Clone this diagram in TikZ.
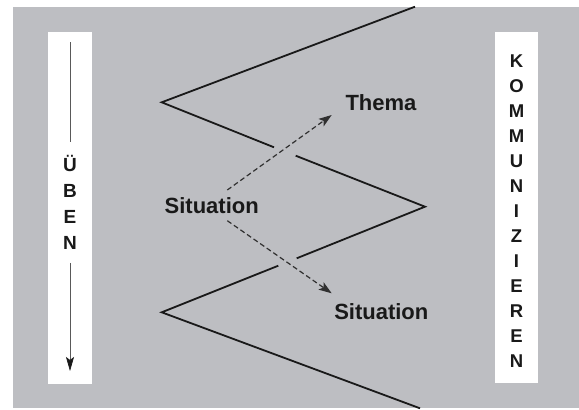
\documentclass[tikz,border=0pt]{standalone}
\usepackage{fontspec}
\setmainfont{Liberation Sans}
\usetikzlibrary{arrows.meta}

\definecolor{bggray}{RGB}{189,190,194}
\definecolor{ink}{RGB}{25,25,25}

\tikzset{
  zig/.style={draw=ink, line width=1.8pt},
  dasharrow/.style={draw=ink!90, line width=1.2pt, dash pattern=on 5pt off 3pt,
                    -{Stealth[length=13pt,width=9pt,inset=3pt]}},
  sidebar/.style={fill=white, draw=none},
  word/.style={font=\bfseries\fontsize{22}{26}\selectfont, text=ink, anchor=base, inner sep=0pt},
  vword/.style={font=\bfseries\fontsize{18.5}{25}\selectfont, text=ink, align=center, inner sep=0pt},
}

\def\xL{70}
\def\xR{516.5}

\begin{document}
\begin{tikzpicture}[x=1pt, y=-1pt]
    \useasboundingbox (0,0) rectangle (579,410);
    \fill[bggray] (13.3,6.7) rectangle (579,408);

    %% side bars
    \fill[sidebar] (48.3,31.7) rectangle (91.7,384);
    \fill[sidebar] (495,31.7)  rectangle (538,383);

    %%   (name)   (x, y)          {\text}
    \node[vword, font=\bfseries\fontsize{19}{26}\selectfont, inner ysep=13pt] (uben) at (\xL, 202.5) {Ü\\B\\E\\N};
    \node[vword] (komm) at (\xR, 211.5) {K\\O\\M\\M\\U\\N\\I\\Z\\I\\E\\R\\E\\N};

    \coordinate (ubtop) at (\xL, 42);
    \coordinate (ubbot) at (\xL, 371);
    \draw[gray!70!black, line width=0.7pt] (ubtop) -- (uben.north);
    \draw[gray!70!black, line width=0.7pt, -{Stealth[length=14pt,width=8pt,inset=3pt,color=ink]}] (uben.south) -- (ubbot);

    %% zigzag
    \coordinate (z0) at (415,6.7);
    \coordinate (z1) at (161.7,102.3);
    \coordinate (z2) at (425,206.7);
    \coordinate (z3) at (161.7,312.3);
    \coordinate (z4) at (420,408.3);
    \coordinate (g1) at (274,147.3);
    \coordinate (g2) at (295.7,155.7);
    \coordinate (g3) at (296.7,258.3);
    \coordinate (g4) at (278.3,265.7);

    \draw[zig] (z0) -- (z1) -- (g1);
    \draw[zig] (g2) -- (z2) -- (g3);
    \draw[zig] (g4) -- (z3) -- (z4);

    %% words
    \node[word] (sit)   at (211.7,213.3) {Situation};
    \node[word] (thema) at (381,110)     {Thema};
    \node[word] (sit2)  at (381.3,319.3) {Situation};

    \coordinate (a1s) at (227.3,190);
    \coordinate (a1e) at (331.7,115);
    \coordinate (a2s) at (227.3,220.7);
    \coordinate (a2e) at (331.7,293.3);

    \draw[dasharrow] (a1s) -- (a1e);
    \draw[dasharrow] (a2s) -- (a2e);

\end{tikzpicture}
\end{document}
